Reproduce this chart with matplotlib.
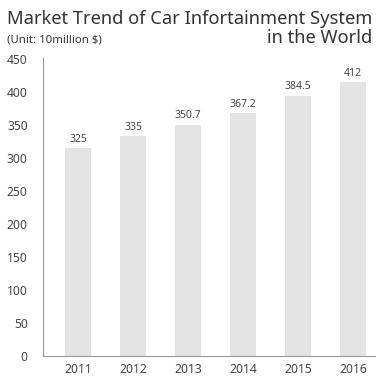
import matplotlib
matplotlib.use("Agg")
from matplotlib import pyplot as plt
import numpy as np

plt.rcParams['font.family'] = ['Noto Sans', 'DejaVu Sans']

years = ['2011', '2012', '2013', '2014', '2015', '2016']
# bar heights as drawn in the picture, labels as printed above them
bar_heights = [315, 334, 351, 368, 395, 415]
value_labels = ['325', '335', '350.7', '367.2', '384.5', '412']
y_ticks = [0, 50, 100, 150, 200, 250, 300, 350, 400, 450]


def main():
    fig = plt.figure(figsize=(3.76, 3.77), dpi=100)
    ax = fig.add_axes([0.1144, 0.0557, 0.8856, 0.7904])

    x = np.arange(len(years))
    bars = ax.bar(x, bar_heights, width=0.47, color='#e3e3e3')

    for b, lab in zip(bars, value_labels):
        ax.text(b.get_x() + b.get_width() / 2, b.get_height() + 5, lab,
                ha='center', va='bottom', fontsize=7.5, color='#444444')

    ax.set_xlim(-0.64, 5.42)
    ax.set_ylim(0, 452)
    ax.set_xticks(x)
    ax.set_xticklabels(years)
    ax.set_yticks(y_ticks)

    for s in ['top', 'right']:
        ax.spines[s].set_visible(False)
    for s in ['left', 'bottom']:
        ax.spines[s].set_color('#999999')
        ax.spines[s].set_linewidth(0.8)

    ax.tick_params(axis='both', length=0, labelsize=8.7, colors='#444444')
    ax.tick_params(axis='y', pad=11)
    ax.tick_params(axis='x', pad=5)

    fig.text(0.018, 0.936, 'Market Trend of Car Infortainment System',
             fontsize=13.2, color='#333333', ha='left', va='baseline')
    fig.text(0.99, 0.886, 'in the World',
             fontsize=13.2, color='#333333', ha='right', va='baseline')
    fig.text(0.018, 0.886, '(Unit: 10million $)',
             fontsize=8.2, color='#333333', ha='left', va='baseline')

    fig.savefig('out.png', dpi=100)


if __name__ == '__main__':
    main()
